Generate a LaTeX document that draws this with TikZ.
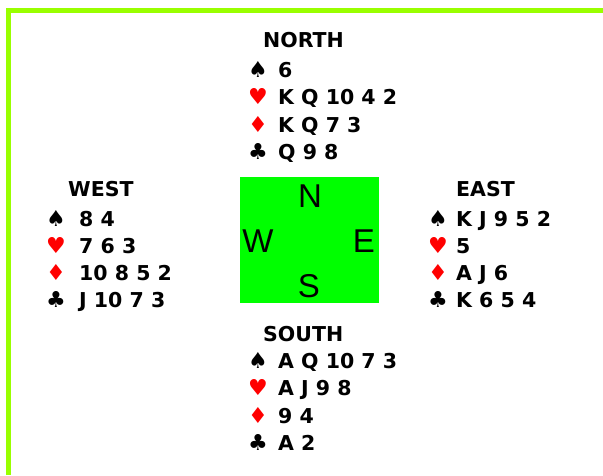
\documentclass[tikz,border=0pt]{standalone}
\usepackage{fontspec}
\setmainfont{DejaVu Sans}
\newfontfamily\compassfont{Liberation Sans}
\definecolor{framegreen}{HTML}{99FF00}
\definecolor{boxgreen}{HTML}{00FF00}
\definecolor{suitred}{HTML}{FF0000}
\tikzset{
  title/.style={inner sep=0pt, anchor=base west, font=\fontsize{20.5}{24}\selectfont\bfseries},
  cards/.style={inner sep=0pt, anchor=base west, font=\fontsize{20.5}{24}\selectfont\bfseries},
  suit/.style={inner sep=0pt, anchor=base, font=\fontsize{22}{24}\selectfont},
  redsuit/.style={suit, text=suitred},
  compass/.style={inner sep=0pt, anchor=base, font=\compassfont\fontsize{33}{36}\selectfont},
}
\begin{document}
\begin{tikzpicture}[x=1pt,y=-1pt]
\useasboundingbox (0,0) rectangle (603,475);
\fill[white] (0,0) rectangle (603,475);
% frame
\draw[framegreen, line width=5pt] (8.5,475) -- (8.5,10.5) -- (603,10.5);
% table
\fill[boxgreen] (240,177) rectangle (379,303);
\node[compass] (cn) at (310,207) {N};
\node[compass] (cw) at (258,252) {W};
\node[compass] (ce) at (364,252) {E};
\node[compass] (cs) at (309,297) {S};
% North
\node[title] (ntitle) at (263,47) {NORTH};
\node[suit] (ns) at (258,77) {♠};
\node[cards] (nsc) at (278,77) {6};
\node[redsuit] (nh) at (258,104.5) {♥};
\node[cards] (nhc) at (278,104.5) {K Q 10 4 2};
\node[redsuit] (nd) at (258,132) {♦};
\node[cards] (ndc) at (278,132) {K Q 7 3};
\node[suit] (nc) at (258,159.5) {♣};
\node[cards] (ncc) at (278,159.5) {Q 9 8};
% West
\node[title] (wtitle) at (68,196) {WEST};
\node[suit] (ws) at (56,226) {♠};
\node[cards] (wsc) at (79,226) {8 4};
\node[redsuit] (wh) at (56,253) {♥};
\node[cards] (whc) at (79,253) {7 6 3};
\node[redsuit] (wd) at (56,280) {♦};
\node[cards] (wdc) at (79,280) {10 8 5 2};
\node[suit] (wc) at (56,307.5) {♣};
\node[cards] (wcc) at (79,307.5) {J 10 7 3};
% East
\node[title] (etitle) at (456,196) {EAST};
\node[suit] (es) at (438,226) {♠};
\node[cards] (esc) at (456,226) {K J 9 5 2};
\node[redsuit] (eh) at (438,253) {♥};
\node[cards] (ehc) at (456,253) {5};
\node[redsuit] (ed) at (438,280) {♦};
\node[cards] (edc) at (456,280) {A J 6};
\node[suit] (ec) at (438,307.5) {♣};
\node[cards] (ecc) at (456,307.5) {K 6 5 4};
% South
\node[title] (stitle) at (263,341) {SOUTH};
\node[suit] (ss) at (258,368) {♠};
\node[cards] (ssc) at (278,368) {A Q 10 7 3};
\node[redsuit] (sh) at (258,395.5) {♥};
\node[cards] (shc) at (278,395.5) {A J 9 8};
\node[redsuit] (sd) at (258,423) {♦};
\node[cards] (sdc) at (278,423) {9 4};
\node[suit] (sc) at (258,450) {♣};
\node[cards] (scc) at (278,450) {A 2};
\end{tikzpicture}
\end{document}
